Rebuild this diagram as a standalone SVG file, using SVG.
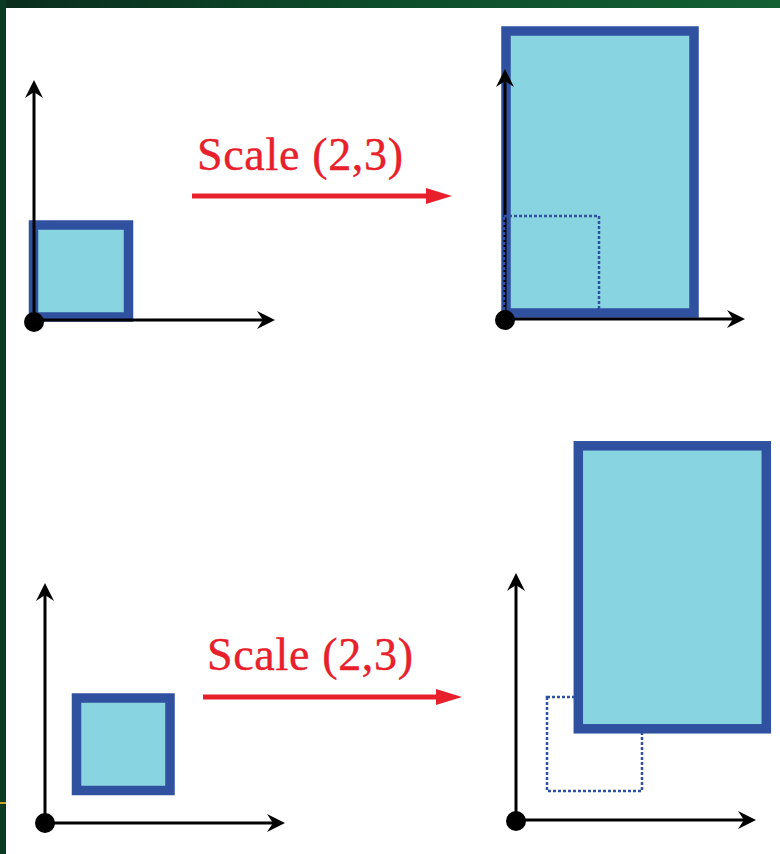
<svg xmlns="http://www.w3.org/2000/svg" width="780" height="854" viewBox="0 0 780 854">
<defs>
<linearGradient id="topband" x1="0" y1="0" x2="1" y2="0">
<stop offset="0" stop-color="#0a2c1d"/>
<stop offset="0.45" stop-color="#0c4a29"/>
<stop offset="1" stop-color="#136033"/>
</linearGradient>
<marker id="ax" markerUnits="userSpaceOnUse" markerWidth="20" markerHeight="20" viewBox="0 0 20 20" refX="12" refY="9" orient="auto">
<path d="M18,9 L0,0 L6,9 L0,18 Z" fill="#000"/>
</marker>
<marker id="red" markerUnits="userSpaceOnUse" markerWidth="28" markerHeight="20" viewBox="0 0 28 20" refX="4" refY="8" orient="auto">
<path d="M0,0 L26,8 L0,16 Z" fill="#e8202c"/>
</marker>
</defs>
<style>
.axis{stroke:#000;stroke-width:3;fill:none}
.shape{fill:#89d4e1;stroke:#3050a0;stroke-width:9.5}
.ghost{fill:none;stroke:#3050a0;stroke-width:2.5;stroke-dasharray:3 2}
.dot{fill:#000}
.lbl{font-family:"Liberation Serif","Times New Roman",serif;font-size:46px;fill:#e8202c;stroke:#e8202c;stroke-width:0.4}
.conn{stroke:#e8202c;stroke-width:5;fill:none}
</style>
<rect x="0" y="0" width="780" height="854" fill="#ffffff"/>
<rect x="0" y="0" width="780" height="8" fill="url(#topband)"/>
<rect x="0" y="0" width="6" height="854" fill="#0b3a22"/>
<rect x="0" y="802" width="6" height="2" fill="#c9a227"/>

<g id="panel-top-left">
<rect class="shape" x="33.5" y="225" width="95" height="92"/>
<line class="axis" x1="34" y1="321" x2="34" y2="86" marker-end="url(#ax)"/>
<line class="axis" x1="34" y1="320" x2="269" y2="320" marker-end="url(#ax)"/>
<circle class="dot" cx="34" cy="322" r="10"/>
</g>

<g id="panel-top-right">
<rect class="shape" x="506" y="31" width="188" height="282"/>
<line class="axis" x1="505" y1="320" x2="505" y2="75" marker-end="url(#ax)"/>
<line class="axis" x1="505" y1="319" x2="739" y2="319" marker-end="url(#ax)"/>
<rect class="ghost" x="504" y="216" width="95" height="97"/>
<circle class="dot" cx="505" cy="320" r="10"/>
</g>

<g id="panel-bottom-left">
<rect class="shape" x="76.5" y="698" width="93.5" height="92.5"/>
<line class="axis" x1="45" y1="823" x2="45" y2="589" marker-end="url(#ax)"/>
<line class="axis" x1="45" y1="823" x2="279" y2="823" marker-end="url(#ax)"/>
<circle class="dot" cx="45" cy="823" r="10"/>
</g>

<g id="panel-bottom-right">
<rect class="ghost" x="547" y="697" width="95" height="94"/>
<rect class="shape" x="578.3" y="445.8" width="188" height="283"/>
<line class="axis" x1="516" y1="821" x2="516" y2="579" marker-end="url(#ax)"/>
<line class="axis" x1="516" y1="820" x2="750" y2="820" marker-end="url(#ax)"/>
<circle class="dot" cx="516" cy="821" r="10"/>
</g>

<g id="connectors">
<g id="scale-top">
<line class="conn" x1="192" y1="196" x2="430" y2="196" marker-end="url(#red)"/>
<text class="lbl" x="197" y="169.5" textLength="206" lengthAdjust="spacing">Scale (2,3)</text>
</g>
<g id="scale-bottom">
<line class="conn" x1="203" y1="697" x2="440" y2="697" marker-end="url(#red)"/>
<text class="lbl" x="207" y="670" textLength="206" lengthAdjust="spacing">Scale (2,3)</text>
</g>
</g>
</svg>
